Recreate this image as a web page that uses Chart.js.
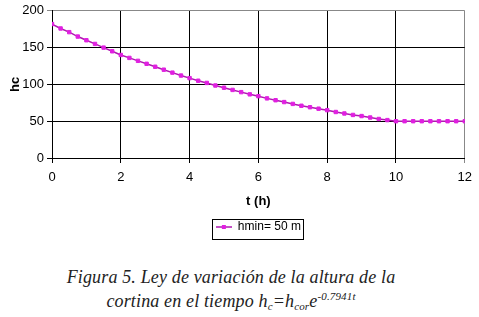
<!DOCTYPE html>
<html>
<head>
<meta charset="utf-8">
<script src="https://cdn.jsdelivr.net/npm/chart.js@4/dist/chart.umd.min.js"></script>
<style>
    body { margin: 0; background: #fff; }
    #wrap { position: relative; width: 479px; height: 243px; }
    #caption {
        position: absolute; left: 0; top: 268px; width: 462px;
        text-align: center; font-family: 'Liberation Serif', serif; font-style: italic;
        font-size: 18px; line-height: 19px; color: #222; letter-spacing: 0.15px;
    }
    #caption sub { font-size: 11px; vertical-align: -3px; }
    #caption sup { font-size: 11px; vertical-align: 7px; }
</style>
</head>
<body>
<div id="wrap"><canvas id="simple_chart"></canvas></div>
<div id="caption">Figura 5. Ley de variación de la altura de la<br>cortina en el tiempo h<sub>c</sub>=h<sub>cor</sub>e<sup>-0.7941t</sup></div>
<script>
// time (h), every 0.25 h
var t_values = [0, 0.25, 0.5, 0.75, 1, 1.25, 1.5, 1.75, 2, 2.25, 2.5, 2.75, 3, 3.25, 3.5, 3.75,
    4, 4.25, 4.5, 4.75, 5, 5.25, 5.5, 5.75, 6, 6.25, 6.5, 6.75, 7, 7.25, 7.5, 7.75,
    8, 8.25, 8.5, 8.75, 9, 9.25, 9.5, 9.75, 10, 10.25, 10.5, 10.75, 11, 11.25, 11.5, 11.75, 12];
// hc values
var hc_values = [182, 176, 171, 165, 160, 155, 150, 145, 140, 136, 132, 128, 124, 120, 116, 112,
    108.5, 105, 102, 98.5, 95.5, 92.5, 89.5, 86.5, 84, 81, 78.5, 76, 73.5, 71, 69, 67,
    65, 62.5, 60.5, 58.5, 57, 55, 53, 51.5, 50, 50, 50, 50, 50, 50, 50, 50, 50];
var series_label = 'hmin= 50 m';
var x_ticks = [0, 2, 4, 6, 8, 10, 12];
var y_ticks = [0, 50, 100, 150, 200];

var line_color = '#b018b0';
var marker_color = '#e020e0';
var sans = "'Liberation Sans', Arial, sans-serif";

// legend symbol: short line with a square marker
var sym = document.createElement('canvas');
sym.width = 16; sym.height = 8;
var sctx = sym.getContext('2d');
sctx.strokeStyle = line_color; sctx.lineWidth = 1.5;
sctx.beginPath(); sctx.moveTo(0, 4); sctx.lineTo(16, 4); sctx.stroke();
sctx.fillStyle = marker_color; sctx.fillRect(6, 2, 4, 4);

// draw a frame round the legend item
const legendFrame = {
    id: 'legendFrame',
    afterDraw(chart) {
        var hb = chart.legend.legendHitBoxes[0];
        if (!hb) return;
        var ctx = chart.ctx;
        ctx.save();
        ctx.strokeStyle = '#000';
        ctx.lineWidth = 1;
        ctx.strokeRect(Math.round(hb.left - 4) + 0.5, Math.round(hb.top - 2) + 0.5,
            Math.round(hb.width + 6), 20);
        ctx.restore();
    }
};

window.onload = function() {
    const ctx = document.getElementById('simple_chart').getContext('2d');
    new Chart(ctx, {
        type: 'line',
        data: {
            datasets: [{
                label: series_label,
                data: t_values.map((t, i) => ({ x: t, y: hc_values[i] })),
                borderColor: line_color,
                borderWidth: 1.5,
                backgroundColor: marker_color,
                pointStyle: 'rect',
                pointRadius: 2.4,
                pointBorderWidth: 1,
                pointBorderColor: marker_color,
                pointBackgroundColor: marker_color,
                fill: false,
                tension: 0
            }]
        },
        options: {
            responsive: true,
            maintainAspectRatio: false,
            animation: false,
            layout: { padding: { top: 8, right: 12, left: 0, bottom: 0 } },
            scales: {
                x: {
                    type: 'linear',
                    min: 0, max: 12,
                    afterBuildTicks: function(scale) { scale.ticks = x_ticks.map(v => ({ value: v })); },
                    afterFit: function(scale) { scale.height = 57; },
                    ticks: { color: '#000', padding: 7, maxRotation: 0,
                        font: { family: sans, size: 13 } },
                    grid: {
                        color: function(c) { return c.tick && c.tick.value === 12 ? '#888' : '#000'; },
                        tickLength: 5, lineWidth: 1
                    },
                    border: { color: '#000', width: 1 },
                    title: { display: true, text: 't (h)', color: '#000', padding: { top: 0, bottom: 6 },
                        font: { family: sans, size: 13, weight: 'bold' } }
                },
                y: {
                    min: 0, max: 200,
                    afterBuildTicks: function(scale) { scale.ticks = y_ticks.map(v => ({ value: v })); },
                    afterFit: function(scale) { scale.width = 52; },
                    ticks: { color: '#000', padding: 3,
                        font: { family: sans, size: 13 } },
                    grid: {
                        color: function(c) { return c.tick && c.tick.value === 200 ? '#888' : '#000'; },
                        tickLength: 5, lineWidth: 1
                    },
                    border: { color: '#000', width: 1 },
                    title: { display: true, text: 'hc', color: '#000', padding: { top: 8, bottom: 0 },
                        font: { family: sans, size: 13, weight: 'bold' } }
                }
            },
            plugins: {
                legend: {
                    display: true,
                    position: 'bottom',
                    fullSize: false,
                    labels: {
                        color: '#000',
                        usePointStyle: true,
                        pointStyle: sym,
                        pointStyleWidth: 16,
                        padding: 6,
                        font: { family: sans, size: 12 },
                        generateLabels: function(chart) {
                            return [{ text: series_label, pointStyle: sym, fillStyle: marker_color,
                                strokeStyle: line_color, lineWidth: 0, datasetIndex: 0 }];
                        }
                    }
                },
                tooltip: { enabled: false }
            }
        },
        plugins: [legendFrame]
    });
};
</script>
</body>
</html>
